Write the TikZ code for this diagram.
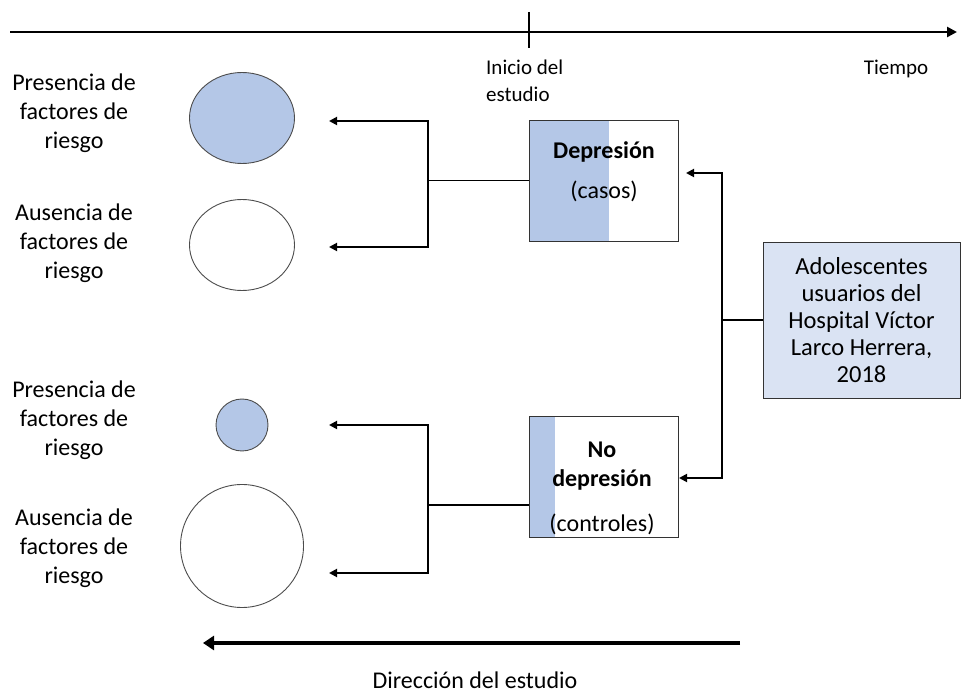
\documentclass[tikz,border=0pt]{standalone}
\usepackage{fontspec}
\setmainfont{Carlito}
\usetikzlibrary{arrows.meta,positioning,calc,shapes.geometric}
\definecolor{caseblue}{HTML}{B4C7E7}
\definecolor{popblue}{HTML}{DAE3F3}
\newcommand\diagfont{\fontsize{24}{29}\selectfont}
\newcommand\axisfont{\fontsize{21}{27}\selectfont}
\tikzset{
  lbl/.style={align=center, inner sep=0pt, font=\diagfont},
  ring/.style={ellipse, draw=black!70, line width=0.9pt, inner sep=0pt},
  groupbox/.style={draw=black!80, line width=0.9pt, minimum width=149pt, minimum height=121pt, inner sep=0pt,
    path picture={\fill[caseblue] (path picture bounding box.south west) rectangle ([xshift=#1]path picture bounding box.north west);}},
  popbox/.style={draw=black!80, line width=0.9pt, fill=popblue, minimum width=197pt, minimum height=156pt,
    align=center, inner sep=0pt, font=\fontsize{24.5}{27}\selectfont},
  link/.style={line width=1.8pt},
  edge/.style={-{Triangle[length=8pt,width=8pt]}, line width=1.8pt},
  axis/.style={-{Triangle[length=10pt,width=10pt]}, line width=2.6pt},
  dirarrow/.style={-{Triangle[length=11pt,width=14pt]}, line width=4pt}
}
\begin{document}
\begin{tikzpicture}[x=1pt, y=-1pt]
\useasboundingbox (0,0) rectangle (962,700);

% time line
\coordinate (tstart) at (10,32);
\coordinate (tend) at (957,32);
\coordinate (ticktop) at (529,12);
\coordinate (tickbot) at (529,48);
\draw[axis] (tstart) -- (tend);
\draw[line width=2.6pt] (ticktop) -- (tickbot);
\node[align=left, anchor=west, inner sep=0pt, font=\axisfont] (inicio) at (486,81) {Inicio del\\estudio};
\node[inner sep=0pt, font=\axisfont] (tiempo) at (896,69) {Tiempo};

% groups
\node[groupbox=80pt] (dep) at (603.5,180.5) {};
\node[lbl] (deptext) at (604,172) {\textbf{Depresión}\\[11pt](casos)};
\node[groupbox=26pt] (nodep) at (603.5,477) {};
\node[lbl] (nodeptext) at (602,488) {\textbf{No}\\\textbf{depresión}\\[16pt](controles)};
\node[popbox] (pop) at (861.5,320) {Adolescentes\\usuarios del\\Hospital Víctor\\Larco Herrera,\\2018};

% exposure
\node[lbl] (pres1) at (74,113) {Presencia de\\factores de\\riesgo};
\node[lbl] (aus1) at (74,243) {Ausencia de\\factores de\\riesgo};
\node[lbl] (pres2) at (74,420) {Presencia de\\factores de\\riesgo};
\node[lbl] (aus2) at (74,548) {Ausencia de\\factores de\\riesgo};
\node[ring, fill=caseblue, minimum width=105pt, minimum height=91pt] (cpres1) at (242,118) {};
\node[ring, minimum width=105pt, minimum height=91pt] (caus1) at (242,245) {};
\node[ring, fill=caseblue, minimum width=52pt, minimum height=52pt] (cpres2) at (242,425) {};
\node[ring, minimum width=123pt, minimum height=123pt] (caus2) at (242,546) {};

% connectors
\coordinate (jcase) at (428,180.5);
\coordinate (jctrl) at (428,505);
\coordinate (jpop) at (722,320);
\coordinate (tippres1) at (329,121);
\coordinate (tipaus1) at (329,247);
\coordinate (tippres2) at (329,425);
\coordinate (tipaus2) at (329,573);
\coordinate (tipdep) at (686,173);
\coordinate (tipnodep) at (679,478);
\draw[link] (dep.west) -- (jcase);
\draw[edge] (jcase) |- (tippres1);
\draw[edge] (jcase) |- (tipaus1);
\draw[link] (nodep.west |- jctrl) -- (jctrl);
\draw[edge] (jctrl) |- (tippres2);
\draw[edge] (jctrl) |- (tipaus2);
\draw[link] (pop.west) -- (jpop);
\draw[edge] (jpop) |- (tipdep);
\draw[edge] (jpop) |- (tipnodep);

% direction
\coordinate (dirstart) at (740,643);
\coordinate (dirend) at (203,643);
\draw[dirarrow] (dirstart) -- (dirend);
\node[lbl] (dirtext) at (475,680) {Dirección del estudio};
\end{tikzpicture}
\end{document}
